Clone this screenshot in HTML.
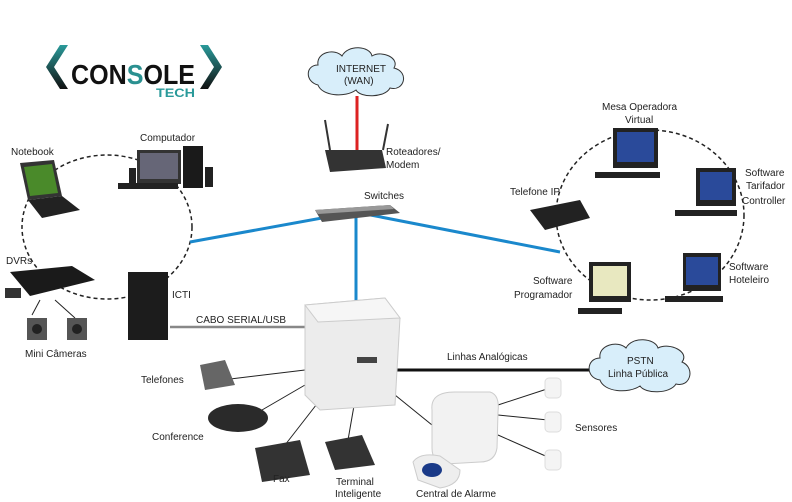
<!DOCTYPE html>
<html><head><meta charset="utf-8"><style>
body{margin:0;background:#fff;}
svg{display:block;font-family:"Liberation Sans",sans-serif;}
text{font-size:10px;fill:#222;}
</style></head><body>
<svg width="792" height="502" viewBox="0 0 792 502">
<defs>
<linearGradient id="tg" x1="0" y1="0" x2="0" y2="1"><stop offset="0" stop-color="#2a9a9a"/><stop offset="1" stop-color="#111"/></linearGradient>
</defs>
<!-- logo -->
<polygon points="60,45 68,45 54,67 68,89 60,89 46,67" fill="url(#tg)"/>
<polygon points="208,45 200,45 214,67 200,89 208,89 222,67" fill="url(#tg)"/>
<text x="71" y="84" textLength="124" lengthAdjust="spacingAndGlyphs" style="font-size:28px;font-weight:bold;fill:#111">CON<tspan fill="#2a9090">S</tspan>OLE</text>
<text x="156" y="97" textLength="39" lengthAdjust="spacingAndGlyphs" style="font-size:12px;font-weight:bold;fill:#2a9a9a">TECH</text>

<!-- dashed circles -->
<ellipse cx="107" cy="227" rx="85" ry="72" fill="none" stroke="#222" stroke-width="1.5" stroke-dasharray="4,3"/>
<ellipse cx="650" cy="215" rx="94" ry="85" fill="none" stroke="#222" stroke-width="1.5" stroke-dasharray="4,3"/>

<!-- lines -->
<line x1="190" y1="242" x2="355" y2="212" stroke="#1a88cc" stroke-width="3"/>
<line x1="355" y1="212" x2="560" y2="252" stroke="#1a88cc" stroke-width="3"/>
<line x1="356" y1="212" x2="356" y2="302" stroke="#1a88cc" stroke-width="3"/>
<line x1="357" y1="96" x2="357" y2="150" stroke="#d22" stroke-width="3"/>
<line x1="170" y1="327" x2="305" y2="327" stroke="#888" stroke-width="2.5"/>
<line x1="345" y1="370" x2="595" y2="370" stroke="#111" stroke-width="3"/>
<g stroke="#222" stroke-width="1">
<line x1="305" y1="370" x2="222" y2="380"/>
<line x1="305" y1="385" x2="262" y2="410"/>
<line x1="320" y1="400" x2="285" y2="445"/>
<line x1="355" y1="400" x2="348" y2="440"/>
<line x1="395" y1="395" x2="432" y2="425"/>
<line x1="498" y1="405" x2="550" y2="388"/>
<line x1="498" y1="415" x2="548" y2="420"/>
<line x1="498" y1="435" x2="550" y2="458"/>
<line x1="40" y1="300" x2="32" y2="315"/>
<line x1="55" y1="300" x2="75" y2="318"/>
</g>

<!-- clouds -->
<g fill="#d8eefa" stroke="#333" stroke-width="1">
<path d="M318,85 C305,82 305,65 318,65 C316,52 335,48 342,56 C348,44 370,46 372,56 C382,50 400,58 394,68 C410,72 404,92 390,88 C385,98 360,98 356,90 C345,98 322,96 318,85Z"/>
<path d="M600,380 C585,378 586,358 600,358 C598,345 618,340 626,348 C632,336 655,338 658,348 C670,342 690,352 682,362 C696,368 690,388 676,384 C670,394 645,394 640,386 C628,394 604,392 600,380Z"/>
</g>
<text x="336" y="72">INTERNET</text><text x="344" y="84">(WAN)</text>
<text x="627" y="364">PSTN</text><text x="608" y="377">Linha Pública</text>

<!-- router & switch -->
<path d="M325,150 L382,150 L386,168 L330,172Z" fill="#333"/>
<line x1="330" y1="150" x2="325" y2="120" stroke="#333" stroke-width="2"/>
<line x1="383" y1="150" x2="388" y2="124" stroke="#333" stroke-width="2"/>
<path d="M315,210 L390,205 L400,213 L322,222Z" fill="#555"/>
<path d="M315,210 L390,205 L394,209 L318,214Z" fill="#999"/>

<!-- PBX -->
<path d="M305,305 L385,298 L400,318 L395,405 L320,410 L305,395Z" fill="#ececec" stroke="#ccc"/>
<path d="M305,305 L385,298 L400,318 L318,322Z" fill="#f6f6f6" stroke="#ccc"/>
<rect x="357" y="357" width="20" height="6" fill="#444"/>

<!-- left devices -->
<path d="M20,163 L54,160 L62,196 L28,200Z" fill="#333"/><path d="M24,167 L52,164 L58,193 L30,196Z" fill="#4a8a2a"/>
<path d="M28,200 L62,196 L80,210 L42,218Z" fill="#222"/>
<rect x="137" y="150" width="44" height="34" fill="#333"/><rect x="140" y="153" width="38" height="26" fill="#667"/>
<rect x="118" y="183" width="60" height="6" fill="#222"/>
<rect x="183" y="146" width="20" height="42" fill="#1a1a1a"/><rect x="205" y="167" width="8" height="20" fill="#222"/><rect x="129" y="168" width="7" height="16" fill="#222"/>
<path d="M10,272 L72,266 L95,280 L30,296Z" fill="#1a1a1a"/>
<rect x="5" y="288" width="16" height="10" fill="#333"/>
<rect x="27" y="318" width="20" height="22" fill="#555"/><circle cx="37" cy="329" r="5" fill="#222"/>
<rect x="67" y="318" width="20" height="22" fill="#555"/><circle cx="77" cy="329" r="5" fill="#222"/>
<rect x="128" y="272" width="40" height="68" fill="#1c1c1c"/>

<!-- phones -->
<path d="M200,365 L225,360 L235,385 L205,390Z" fill="#666"/>
<ellipse cx="238" cy="418" rx="30" ry="14" fill="#2a2a2a"/>
<path d="M255,448 L300,440 L310,475 L262,482Z" fill="#333"/>
<path d="M325,442 L362,435 L375,465 L335,470Z" fill="#333"/>
<path d="M432,410 Q430,392 455,392 L490,392 Q500,395 498,412 L497,448 Q495,462 480,462 L445,464 Q432,462 432,448Z" fill="#f2f2f2" stroke="#ccc"/>
<path d="M413,462 Q420,452 440,456 L460,470 Q460,485 440,488 L418,480Z" fill="#eee" stroke="#ccc"/>
<ellipse cx="432" cy="470" rx="10" ry="7" fill="#1a3a88"/>
<g fill="#f4f4f4" stroke="#ddd"><rect x="545" y="378" width="16" height="20" rx="4"/><rect x="545" y="412" width="16" height="20" rx="4"/><rect x="545" y="450" width="16" height="20" rx="4"/></g>

<!-- right devices -->
<g fill="#222">
<rect x="613" y="128" width="45" height="40"/><rect x="595" y="172" width="65" height="6"/>
<rect x="696" y="168" width="40" height="38"/><rect x="675" y="210" width="62" height="6"/>
<rect x="683" y="253" width="38" height="38"/><rect x="665" y="296" width="58" height="6"/>
<rect x="589" y="262" width="42" height="40"/><rect x="578" y="308" width="44" height="6"/>
<path d="M530,210 L580,200 L590,218 L545,230Z"/>
</g>
<g fill="#2a4a9a"><rect x="617" y="132" width="37" height="30"/><rect x="700" y="172" width="32" height="28"/><rect x="686" y="257" width="32" height="28"/></g>
<rect x="593" y="266" width="34" height="30" fill="#e8e8c0"/>

<!-- labels -->
<text x="140" y="141">Computador</text>
<text x="11" y="155">Notebook</text>
<text x="6" y="264">DVRs</text>
<text x="25" y="357">Mini Câmeras</text>
<text x="172" y="298">ICTI</text>
<text x="196" y="323">CABO SERIAL/USB</text>
<text x="386" y="155">Roteadores/</text><text x="386" y="168">Modem</text>
<text x="364" y="199">Switches</text>
<text x="141" y="383">Telefones</text>
<text x="152" y="440">Conference</text>
<text x="273" y="482">Fax</text>
<text x="336" y="485">Terminal</text><text x="335" y="497">Inteligente</text>
<text x="416" y="497">Central de Alarme</text>
<text x="447" y="360">Linhas Analógicas</text>
<text x="575" y="431">Sensores</text>
<text x="602" y="110">Mesa Operadora</text><text x="625" y="123">Virtual</text>
<text x="745" y="176">Software</text><text x="746" y="189">Tarifador</text><text x="742" y="204">Controller</text>
<text x="510" y="195">Telefone IP</text>
<text x="729" y="270">Software</text><text x="729" y="283">Hoteleiro</text>
<text x="533" y="284">Software</text><text x="514" y="298">Programador</text>
</svg>
</body></html>
